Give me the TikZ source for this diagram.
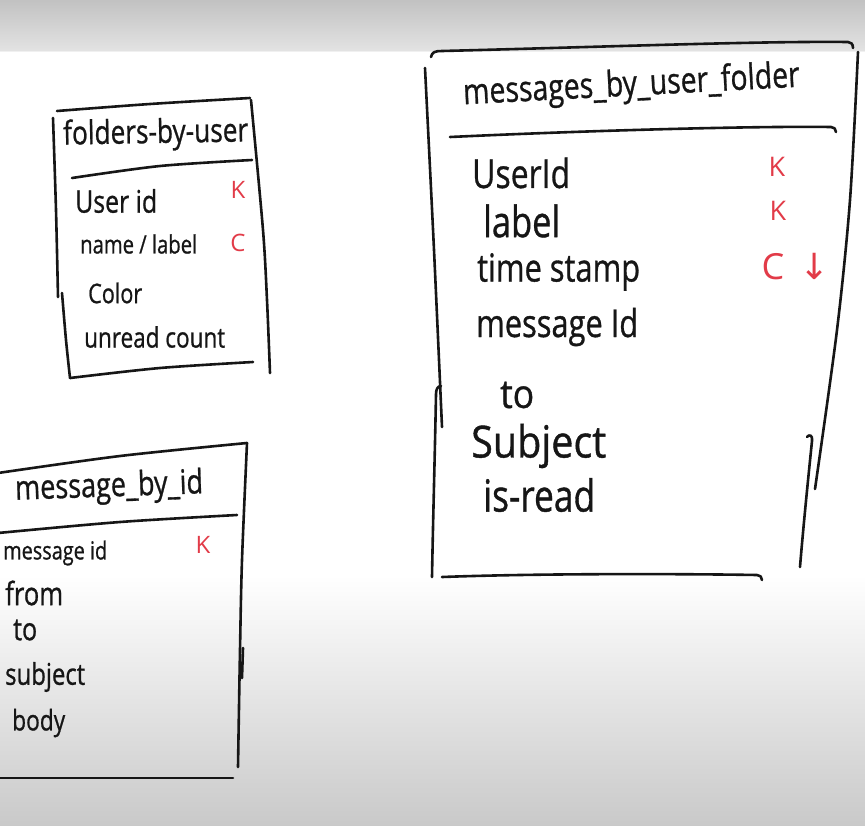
\documentclass[tikz,border=0pt]{standalone}
\usepackage{fontspec}
\usepackage{graphicx}
\setmainfont{Open Sans}
\newfontfamily\hand{Open Sans}[FakeBold=0.9]
\newfontfamily\arrowfont{DejaVu Sans}
\definecolor{ink}{HTML}{161616}
\definecolor{redink}{HTML}{E23B48}
\newcommand{\fitw}[2]{\scalebox{1}[1.25]{\resizebox{#1pt}{!}{#2}}}
\newcommand{\fitws}[2]{\scalebox{1}[1.12]{\resizebox{#1pt}{!}{#2}}}
\begin{document}
\begin{tikzpicture}[x=1pt,y=-1pt,
  pen/.style={draw=ink,line width=2.6pt,line cap=round,line join=round},
  fld/.style={anchor=west,inner sep=0pt,text=ink,font=\hand\fontsize{30}{34}\selectfont},
  key/.style={inner sep=0pt,text=redink,font=\fontsize{24}{28}\selectfont},
  bigkey/.style={inner sep=0pt,text=redink,font=\fontsize{27}{30}\selectfont}]
\useasboundingbox (0,0) rectangle (865,825);
% background (whiteboard)
\fill[white] (0,0) rectangle (865,825);
\shade[top color=black!24, bottom color=black!11] (0,0) rectangle (865,51);
\draw[black!6, line width=1pt] (0,51.5) -- (865,51.5);
\shade[top color=white, bottom color=black!21] (0,575) rectangle (865,825);

% ---------------- folders_by_user ----------------
\draw[pen] plot[smooth] coordinates {(57,111) (150,104) (250,98)};
\draw[pen] plot[smooth] coordinates {(53,118) (56,210) (58,297)};
\draw[pen] plot[smooth] coordinates {(62,293) (66,340) (70,378)};
\draw[pen] plot[smooth] coordinates {(70,378) (160,368) (253,362)};
\draw[pen] plot[smooth] coordinates {(251,100) (263,230) (267,300) (270,373)};
\draw[pen] plot[smooth] coordinates {(72,178) (160,166) (252,160)};
\node[fld,rotate=1] (t1) at (63,136) {\fitw{185}{folders-by-user}};
\node[fld] (f1) at (75,201) {\fitw{82}{User id}};
\node[key] (f1k) at (238,190) {K};
\node[fld] (f2) at (80,244) {\fitw{117}{name / label}};
\node[key] (f2k) at (238,243) {C};
\node[fld] (f3) at (88,293) {\fitw{54}{Color}};
\node[fld] (f4) at (84,337) {\fitw{141}{unread count}};

% ---------------- message_by_id ----------------
\draw[pen] plot[smooth] coordinates {(-2,473) (120,456) (247,443)};
\draw[pen] plot[smooth] coordinates {(247,443) (242,560) (240,650) (238,767)};
\draw[pen] (243,648) -- (242,678);
\draw[pen] plot[smooth] coordinates {(-2,533) (120,522) (237,515)};
\draw[pen] (-2,778) -- (233,778);
\node[fld,rotate=2] (t2) at (15,491) {\fitw{188}{message\_by\_id}};
\node[fld] (m1) at (3,553) {\fitw{104}{message id}};
\node[key] (m1k) at (203,545) {K};
\node[fld] (m2) at (5,593) {\fitw{58}{from}};
\node[fld] (m3) at (13,630) {\fitw{24}{to}};
\node[fld] (m4) at (5,677) {\fitw{80}{subject}};
\node[fld] (m5) at (12,723) {\fitw{53}{body}};

% ---------------- messages_by_user_folder ----------------
\draw[pen] (431,57) .. controls (432,52) and (435,51) .. (442,51)
  .. controls (600,47) and (760,41) .. (848,42)
  .. controls (851,42) and (853,44) .. (853,48);
\draw[pen] plot[smooth] coordinates {(425,68) (434,250) (442,427)};
\draw[pen] (441,386) .. controls (438,386) and (436,389) .. (436,394)
  .. controls (435,450) and (433,520) .. (432,577);
\draw[pen] (442,577) .. controls (550,573) and (700,574) .. (757,575)
  .. controls (760,575) and (762,577) .. (762,580);
\draw[pen] (450,137) .. controls (600,130) and (760,126) .. (831,127)
  .. controls (834,127) and (836,129) .. (836,132);
\draw[pen] plot[smooth] coordinates {(858,52) (850,200) (837,330) (815,489)};
\draw[pen] (807,437) .. controls (809,434) and (813,435) .. (812,441)
  .. controls (808,480) and (803,530) .. (800,567);
\node[fld,rotate=3] (t3) at (463,95) {\fitw{337}{messages\_by\_user\_folder}};
\node[fld] (u1) at (472,173) {\fitw{98}{UserId}};
\node[bigkey] (u1k) at (777,167) {K};
\node[fld] (u2) at (483,221) {\fitw{77}{label}};
\node[bigkey] (u2k) at (778,211) {K};
\node[fld] (u3) at (477,272) {\fitw{163}{time stamp}};
\node[bigkey,font=\fontsize{36}{40}\selectfont] (u3k) at (773,267) {C};
\node[bigkey,font=\arrowfont\fontsize{36}{40}\selectfont] (u3a) at (815,266) {↓};
\node[fld] (u4) at (476,327) {\fitw{162}{message Id}};
\node[fld] (u5) at (500,395) {\fitws{34}{to}};
\node[fld] (u6) at (471,446) {\fitws{135}{Subject}};
\node[fld] (u7) at (483,495) {\fitw{112}{is-read}};
\end{tikzpicture}
\end{document}
